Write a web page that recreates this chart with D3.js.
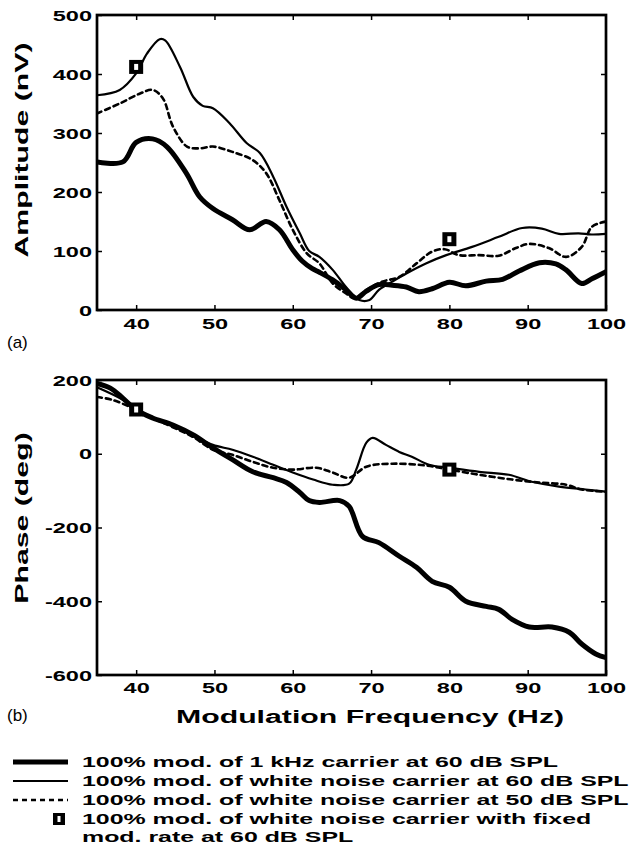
<!DOCTYPE html>
<html>
<head>
<meta charset="utf-8">
<script src="https://cdn.jsdelivr.net/npm/d3@7"></script>
<style>
  body { margin: 0; background: #fff; }
  svg { display: block; }
</style>
</head>
<body>
<div id="chart"></div>
<script>
// values: [modulation frequency (Hz), value]
const ampToneHz60 = [[35,251],[38.3,251],[40,284],[42.1,290],[43.9,277],[46.4,232],[48.1,192],[49.8,172],[52.3,153],[54.5,136],[56.6,150],[58.3,136],[60,102],[61.2,83],[62.5,70],[63.4,64],[65.1,51],[66.8,34],[68.1,20],[69.4,32],[71,43],[72.7,42],[74.5,39],[76.1,31],[77.8,36],[80,47],[82.1,41],[84.7,49],[86.8,52],[88.9,66],[91.5,80],[93.6,78],[94.9,68],[96.9,45],[98.2,53],[100,65]];
const ampNoise60 = [[35,364],[37.9,373],[40,401],[41.4,435],[43,459],[43.7,457],[45.6,412],[47.3,361],[48.5,346],[49.8,342],[51.9,317],[54.1,283],[55.8,266],[57.5,226],[59.2,175],[60.9,130],[62.1,100],[63.4,90],[65.1,68],[66.8,39],[68.5,17],[69.8,17],[71,34],[72.7,48],[74.5,62],[77,79],[79.6,93],[82.9,107],[86.3,124],[89.3,139],[91.8,138],[94,129],[96.5,130],[98.2,128],[100,129]];
const ampNoise50 = [[35,333],[37.9,350],[40.5,367],[42.1,373],[43.4,359],[44.7,311],[46.5,277],[48.1,274],[49.8,277],[52.3,268],[54.9,254],[56.6,232],[58.3,186],[60,136],[61.8,96],[63.4,79],[65.1,45],[66.8,28],[67.9,20],[69.4,34],[71.4,48],[73.6,56],[75.8,79],[77.8,99],[79.4,103],[81.2,93],[83.8,93],[86.3,92],[88.5,105],[90.2,112],[92.7,105],[94.9,90],[96.9,107],[98.2,141],[100,150]];
const ampFixed = [[40,412],[80,120]];

const phaseToneHz60 = [[35,191],[36.7,178],[38.3,151],[40,119],[42.1,97],[44.7,78],[47.3,51],[49.8,16],[52.3,-16],[54.9,-49],[57.5,-65],[59.2,-78],[60.9,-105],[62.1,-127],[63.4,-132],[66,-127],[67.2,-143],[68.9,-224],[71,-241],[73.6,-278],[75.8,-308],[77.8,-346],[80,-362],[82.1,-400],[84.7,-414],[86.3,-422],[88,-449],[90.2,-470],[93.1,-470],[95.3,-484],[96.9,-516],[98.7,-543],[100,-553]];
const phaseNoise60 = [[35,180],[38.3,146],[40,119],[42.1,97],[44.7,74],[47.3,50],[49.8,24],[52.3,11],[54.9,-8],[57.5,-30],[60,-51],[62.6,-70],[65.1,-84],[67.2,-81],[68.1,-43],[69.4,30],[70.2,43],[71.9,24],[73.6,5],[75.2,-8],[77.4,-30],[80,-38],[83.8,-49],[87.6,-57],[90.5,-76],[94,-89],[97.4,-97],[100,-103]];
const phaseNoise50 = [[35,154],[37,146],[39.2,127],[40,119],[42.1,97],[44.7,72],[47.3,45],[49.8,11],[52.3,-3],[54.9,-22],[57.5,-38],[60,-43],[63,-38],[65.1,-51],[67.2,-65],[69.4,-35],[72.7,-27],[77,-32],[80,-43],[83.8,-57],[88,-70],[91.5,-78],[94.9,-84],[96.9,-97],[100,-103]];
const phaseFixed = [[40,120],[80,-43]];

const freqTicks = [40, 50, 60, 70, 80, 90, 100];
const ampTicks = [0, 100, 200, 300, 400, 500];
const phaseTicks = [-600, -400, -200, 0, 200];

const legendLabels = [
    "100% mod. of 1 kHz carrier at 60 dB SPL",
    "100% mod. of white noise carrier at 60 dB SPL",
    "100% mod. of white noise carrier at 50 dB SPL",
    "100% mod. of white noise carrier with fixed",
    "mod. rate at 60 dB SPL"
];

const width = 629, height = 851;
const left = 97, right = 606;
const STRETCH = 1.68;
const font = "'Liberation Sans', Arial, Helvetica, sans-serif";

const svg = d3.select("#chart").append("svg")
    .attr("width", width)
    .attr("height", height)
    .style("font-family", font);

// the original lettering is a wide bold face, so widen the text
function widen(sel, k) {
    sel.each(function() {
        const w = this.getComputedTextLength();
        d3.select(this).attr("textLength", w * k).attr("lengthAdjust", "spacingAndGlyphs");
    });
}

const x = d3.scaleLinear().domain([35, 100]).range([left, right]);

const styles = {
    tone: { width: 5, dash: null },
    n60: { width: 2.2, dash: null },
    n50: { width: 2.6, dash: "5,4" }
};

function drawMarker(g, cx, cy, size, inner) {
    g.append("rect")
        .attr("x", cx - size / 2).attr("y", cy - size / 2)
        .attr("width", size).attr("height", size)
        .attr("fill", "#000");
    g.append("rect")
        .attr("x", cx - inner[0] / 2).attr("y", cy - inner[1] / 2)
        .attr("width", inner[0]).attr("height", inner[1])
        .attr("fill", "#fff");
}

function panel(top, bottom, yDomain, yTicks, series, fixed, yTitle, xLabelY) {
    const y = d3.scaleLinear().domain(yDomain).range([bottom, top]);
    const g = svg.append("g");

    const line = d3.line()
        .x(d => x(d[0]))
        .y(d => y(d[1]))
        .curve(d3.curveCatmullRom.alpha(0.5));

    const clipId = "clip" + top;
    svg.append("clipPath").attr("id", clipId)
        .append("rect").attr("x", left).attr("y", top)
        .attr("width", right - left).attr("height", bottom - top);

    series.forEach(s => {
        g.append("path")
            .datum(s.data)
            .attr("clip-path", `url(#${clipId})`)
            .attr("fill", "none")
            .attr("stroke", "#000")
            .attr("stroke-width", styles[s.style].width)
            .attr("stroke-dasharray", styles[s.style].dash)
            .attr("stroke-linejoin", "round")
            .attr("stroke-linecap", "round")
            .attr("d", line);
    });

    fixed.forEach(d => drawMarker(g, x(d[0]), y(d[1]), 14, [4, 6]));

    // axes, ticks point inward
    const plain = d => String(d);
    const xAxis = g.append("g")
        .attr("transform", `translate(0,${bottom})`)
        .call(d3.axisBottom(x).tickValues(freqTicks).tickSize(-5).tickSizeOuter(0).tickFormat(plain));
    g.append("g")
        .attr("transform", `translate(0,${top})`)
        .call(d3.axisTop(x).tickValues(freqTicks.slice(0, -1)).tickSize(-5).tickSizeOuter(0).tickFormat(""));
    const yAxis = g.append("g")
        .attr("transform", `translate(${left},0)`)
        .call(d3.axisLeft(y).tickValues(yTicks).tickSize(-5).tickSizeOuter(0).tickFormat(plain));
    g.append("g")
        .attr("transform", `translate(${right},0)`)
        .call(d3.axisRight(y).tickValues(yTicks.slice(1, -1)).tickSize(-5).tickSizeOuter(0).tickFormat(""));

    g.selectAll(".domain").remove();
    g.selectAll(".tick line").attr("stroke", "#000").attr("stroke-width", 1.5);

    xAxis.selectAll("text")
        .attr("y", null).attr("dy", null)
        .attr("transform", `translate(0,${xLabelY - bottom})`);
    [xAxis, yAxis].forEach(a => a.selectAll("text")
        .style("font-family", font)
        .style("font-weight", "bold")
        .style("font-size", "14px")
        .attr("fill", "#000"));
    xAxis.selectAll("text").call(widen, STRETCH);
    yAxis.selectAll("text").attr("dy", "0.36em").attr("x", -5).call(widen, STRETCH);

    g.append("rect")
        .attr("x", left).attr("y", top)
        .attr("width", right - left).attr("height", bottom - top)
        .attr("fill", "none")
        .attr("stroke", "#000")
        .attr("stroke-width", 2.7);

    g.append("text")
        .attr("transform", `translate(28,${yTitle.cy}) rotate(-90)`)
        .attr("text-anchor", "middle")
        .style("font-weight", "bold")
        .style("font-size", "18px")
        .text(yTitle.text)
        .call(widen, STRETCH);

    return y;
}

panel(15, 310, [0, 500], ampTicks, [
    { data: ampToneHz60, style: "tone" },
    { data: ampNoise60, style: "n60" },
    { data: ampNoise50, style: "n50" }
], ampFixed, { text: "Amplitude (nV)", cy: 150 }, 329);

panel(380, 675, [-600, 200], phaseTicks, [
    { data: phaseToneHz60, style: "tone" },
    { data: phaseNoise60, style: "n60" },
    { data: phaseNoise50, style: "n50" }
], phaseFixed, { text: "Phase (deg)", cy: 518 }, 693);

svg.append("text")
    .attr("x", 7).attr("y", 348)
    .style("font-size", "17px")
    .text("(a)");
svg.append("text")
    .attr("x", 7).attr("y", 721)
    .style("font-size", "17px")
    .text("(b)");

svg.append("text")
    .attr("x", 176).attr("y", 723)
    .style("font-weight", "bold")
    .style("font-size", "18px")
    .text("Modulation Frequency (Hz)")
    .call(widen, STRETCH);

// legend
const legendY = [767, 786, 805, 824, 842];
const legendStyles = ["tone", "n60", "n50"];
const legend = svg.append("g");
legendStyles.forEach((s, i) => {
    legend.append("line")
        .attr("x1", 13).attr("x2", 68)
        .attr("y1", legendY[i] - 5).attr("y2", legendY[i] - 5)
        .attr("stroke", "#000")
        .attr("stroke-width", styles[s].width)
        .attr("stroke-dasharray", styles[s].dash);
});
drawMarker(legend, 59, legendY[3] - 5, 12, [3, 6]);
legend.selectAll("text.lbl")
    .data(legendLabels)
    .enter().append("text")
    .attr("class", "lbl")
    .attr("x", 82)
    .attr("y", (d, i) => legendY[i])
    .style("font-weight", "bold")
    .style("font-size", "15px")
    .text(d => d)
    .call(widen, 1.66);
</script>
</body>
</html>
